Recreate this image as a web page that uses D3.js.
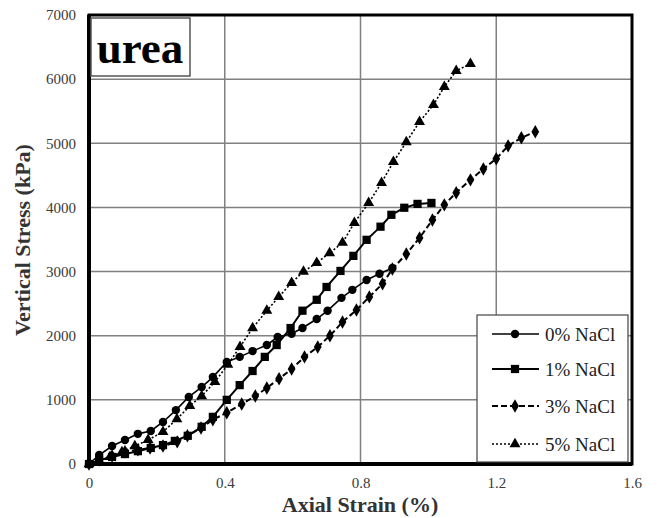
<!DOCTYPE html>
<html>
<head>
<meta charset="utf-8">
<script src="https://cdn.jsdelivr.net/npm/d3@7"></script>
<style>
  body { margin: 0; background: #fff; }
  svg { display: block; font-family: "Liberation Serif", "Times New Roman", serif; }
</style>
</head>
<body>
<div id="chart"></div>
<script>
// axial strain (%) and vertical stress (kPa)
const strain0 = [0, 0.03, 0.068, 0.106, 0.144, 0.182, 0.218, 0.256, 0.294, 0.332, 0.365, 0.406, 0.444, 0.482, 0.524, 0.556, 0.597, 0.629, 0.671, 0.703, 0.744, 0.776, 0.818, 0.856, 0.894];
const stress0 = [0, 140, 280, 375, 470, 515, 655, 840, 1045, 1200, 1355, 1590, 1670, 1760, 1855, 1980, 2030, 2120, 2260, 2390, 2590, 2715, 2870, 2965, 3055];

const strain1 = [0, 0.03, 0.068, 0.106, 0.144, 0.182, 0.218, 0.253, 0.291, 0.332, 0.365, 0.406, 0.444, 0.482, 0.518, 0.553, 0.594, 0.629, 0.671, 0.7, 0.741, 0.779, 0.818, 0.859, 0.891, 0.929, 0.968, 1.009];
const stress1 = [0, 60, 110, 155, 200, 250, 295, 360, 440, 580, 735, 1000, 1230, 1450, 1670, 1855, 2120, 2390, 2560, 2760, 3010, 3245, 3495, 3700, 3885, 3995, 4055, 4070];

const strain3 = [0, 0.03, 0.068, 0.106, 0.144, 0.18, 0.218, 0.26, 0.29, 0.33, 0.365, 0.406, 0.45, 0.49, 0.524, 0.56, 0.597, 0.635, 0.674, 0.71, 0.747, 0.788, 0.826, 0.865, 0.894, 0.935, 0.974, 1.012, 1.047, 1.082, 1.124, 1.162, 1.2, 1.235, 1.274, 1.315];
const stress3 = [0, 60, 125, 190, 220, 250, 280, 345, 440, 560, 690, 800, 935, 1060, 1185, 1330, 1480, 1670, 1825, 2000, 2215, 2400, 2605, 2810, 3040, 3275, 3525, 3805, 4040, 4230, 4430, 4600, 4760, 4960, 5085, 5180];

const strain5 = [0, 0.03, 0.062, 0.097, 0.135, 0.174, 0.218, 0.259, 0.297, 0.332, 0.371, 0.409, 0.445, 0.482, 0.524, 0.559, 0.597, 0.632, 0.671, 0.709, 0.747, 0.782, 0.824, 0.862, 0.897, 0.935, 0.974, 1.015, 1.047, 1.082, 1.124];
const stress5 = [0, 50, 110, 185, 280, 375, 500, 700, 905, 1060, 1280, 1550, 1825, 2120, 2390, 2605, 2825, 3000, 3135, 3290, 3450, 3760, 4070, 4385, 4710, 5020, 5335, 5600, 5880, 6130, 6240];

const seriesNames = ["0% NaCl", "1% NaCl", "3% NaCl", "5% NaCl"];
const xTicks = [0, 0.4, 0.8, 1.2, 1.6];
const yTicks = [0, 1000, 2000, 3000, 4000, 5000, 6000, 7000];

const W = 657, H = 518;
const svg = d3.select("#chart").append("svg").attr("width", W).attr("height", H);

const x = d3.scaleLinear().domain([0, 1.6]).range([89, 632]);
const y = d3.scaleLinear().domain([0, 7000]).range([464, 15]);

// grid
svg.append("g").selectAll("line.gx")
  .data(xTicks.slice(1, -1)).enter().append("line")
  .attr("x1", d => x(d)).attr("x2", d => x(d))
  .attr("y1", y(7000)).attr("y2", y(0))
  .style("stroke", "#808080").style("stroke-width", 1.5);
svg.append("g").selectAll("line.gy")
  .data(yTicks.slice(1, -1)).enter().append("line")
  .attr("x1", x(0)).attr("x2", x(1.6))
  .attr("y1", d => y(d)).attr("y2", d => y(d))
  .style("stroke", "#808080").style("stroke-width", 1.5);

// frame
svg.append("rect")
  .attr("x", x(0)).attr("y", y(7000))
  .attr("width", x(1.6) - x(0)).attr("height", y(0) - y(7000))
  .style("fill", "none").style("stroke", "#000").style("stroke-width", 3);
svg.append("path")
  .attr("d", `M${x(0)},${y(7000)}V${y(0)}H${x(1.6)}`)
  .style("fill", "none").style("stroke", "#000").style("stroke-width", 4);

// tick labels
const xAxis = svg.append("g").attr("transform", `translate(0,${y(0)})`)
  .call(d3.axisBottom(x).tickValues(xTicks).tickSize(0).tickPadding(13).tickFormat(d3.format("")));
const yAxis = svg.append("g").attr("transform", `translate(${x(0)},0)`)
  .call(d3.axisLeft(y).tickValues(yTicks).tickSize(0).tickPadding(13).tickFormat(d3.format("")));
[xAxis, yAxis].forEach(a => {
  a.select(".domain").remove();
  a.selectAll("text").style("font-family", "Liberation Serif, serif")
    .style("font-size", "15px").style("fill", "#3a3a3a");
});

// axis titles
svg.append("text").attr("x", 360).attr("y", 512).attr("text-anchor", "middle")
  .style("font-weight", "bold").style("font-size", "22px").style("fill", "#333")
  .text("Axial Strain (%)");
svg.append("text").attr("transform", "translate(30,240) rotate(-90)").attr("text-anchor", "middle")
  .style("font-weight", "bold").style("font-size", "22px").style("fill", "#333")
  .text("Vertical Stress (kPa)");

// urea label box
svg.append("rect").attr("x", 91).attr("y", 18).attr("width", 99).attr("height", 58)
  .style("fill", "#fff").style("stroke", "#555").style("stroke-width", 1.5);
svg.append("text").attr("x", 140).attr("y", 63).attr("text-anchor", "middle")
  .style("font-weight", "bold").style("font-size", "45px").style("fill", "#000")
  .text("urea");

// markers
const sym = [
  d3.symbol().type(d3.symbolCircle).size(56),
  d3.symbol().type(d3.symbolSquare).size(68),
  d3.symbol().type(d3.symbolDiamond).size(52),
  d3.symbol().type(d3.symbolTriangle).size(52)
];
const dash = [null, null, "6,3", "2,2"];
const lw = [1.6, 2, 2, 1.6];

const series = [
  d3.zip(strain0, stress0),
  d3.zip(strain1, stress1),
  d3.zip(strain3, stress3),
  d3.zip(strain5, stress5)
];

const line = d3.line().x(d => x(d[0])).y(d => y(d[1]));

series.forEach((s, i) => {
  const g = svg.append("g");
  g.append("path").attr("d", line(s))
    .style("fill", "none").style("stroke", "#000").style("stroke-width", lw[i])
    .style("stroke-dasharray", dash[i]);
  g.selectAll("path.m").data(s).enter().append("path")
    .attr("d", sym[i])
    .attr("transform", d => `translate(${x(d[0])},${y(d[1])})`)
    .style("fill", "#000");
});

// legend
const lg = svg.append("g");
lg.append("rect").attr("x", 477).attr("y", 315).attr("width", 151).attr("height", 147)
  .style("fill", "#fff").style("stroke", "#444").style("stroke-width", 1.2);
const ly = [334, 369, 406, 444];
seriesNames.forEach((name, i) => {
  lg.append("line").attr("x1", 492).attr("x2", 539).attr("y1", ly[i]).attr("y2", ly[i])
    .style("stroke", "#000").style("stroke-width", lw[i]).style("stroke-dasharray", dash[i]);
  lg.append("path").attr("d", sym[i]).attr("transform", `translate(515,${ly[i]})`).style("fill", "#000");
  lg.append("text").attr("x", 545).attr("y", ly[i]).attr("dy", "0.35em")
    .style("font-size", "19px").style("fill", "#222").text(name);
});
</script>
</body>
</html>
